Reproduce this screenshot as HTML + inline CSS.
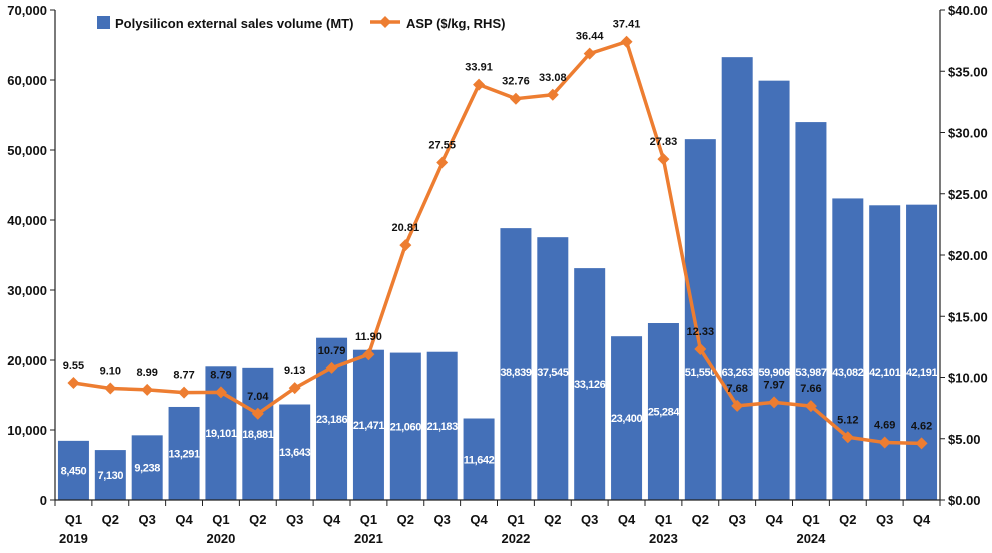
<!DOCTYPE html>
<html><head><meta charset="utf-8"><style>
body{margin:0;background:#fff;}
svg{font-family:"Liberation Sans",Arial,sans-serif;font-weight:bold;}
</style></head><body>
<svg id="chart" width="992" height="548"></svg>
<script>
const quarters=["Q1","Q2","Q3","Q4","Q1","Q2","Q3","Q4","Q1","Q2","Q3","Q4","Q1","Q2","Q3","Q4","Q1","Q2","Q3","Q4","Q1","Q2","Q3","Q4"];
const years=["2019","2020","2021","2022","2023","2024"];
const volume=[8450,7130,9238,13291,19101,18881,13643,23186,21471,21060,21183,11642,38839,37545,33126,23400,25284,51550,63263,59906,53987,43082,42101,42191];
const asp=[9.55,9.10,8.99,8.77,8.79,7.04,9.13,10.79,11.90,20.81,27.55,33.91,32.76,33.08,36.44,37.41,27.83,12.33,7.68,7.97,7.66,5.12,4.69,4.62];
const leftTicks=[0,10000,20000,30000,40000,50000,60000,70000];
const rightTicks=[0,5,10,15,20,25,30,35,40];

const NS="http://www.w3.org/2000/svg";
const svg=document.getElementById('chart');
const X0=55,X1=940,Y0=500,Y1=10;
const n=quarters.length, step=(X1-X0)/n;
const xc=i=>X0+step*(i+0.5);
const yL=v=>Y0-(v/70000)*(Y0-Y1);
const yR=v=>Y0-(v/40)*(Y0-Y1);
function mk(tag,attrs,parent){const e=document.createElementNS(NS,tag);for(const k in attrs)e.setAttribute(k,attrs[k]);(parent||svg).appendChild(e);return e;}
function txt(x,y,s,size,anchor,fill){const t=mk('text',{x:x,y:y,'font-size':size,'text-anchor':anchor,fill:fill||'#111'});t.textContent=s;return t;}

volume.forEach((v,i)=>{
  const r=mk('rect',{x:xc(i)-15.5,y:yL(v),width:31,height:Y0-yL(v),fill:'#4470b8'});
  
  
});
volume.forEach((v,i)=>{
  const mid=(yL(v)+Y0)/2;
  const t=txt(xc(i),Math.max(mid,372)+4,v.toLocaleString('en-US'),11,'middle','#fff');
  t.setAttribute('letter-spacing','-0.4');
  
  
});
mk('line',{x1:X0,y1:Y1,x2:X0,y2:Y0,stroke:'#222','stroke-width':1.2});
mk('line',{x1:X1,y1:Y1,x2:X1,y2:Y0,stroke:'#222','stroke-width':1.2});
mk('line',{x1:X0,y1:Y0,x2:X1,y2:Y0,stroke:'#222','stroke-width':1.2});
leftTicks.forEach(v=>{
  mk('line',{x1:X0-5,y1:yL(v),x2:X0,y2:yL(v),stroke:'#222'});
  const t=txt(X0-8,yL(v)+5,v.toLocaleString('en-US'),13,'end');
  
  
});
rightTicks.forEach(v=>{
  mk('line',{x1:X1,y1:yR(v),x2:X1+5,y2:yR(v),stroke:'#222'});
  const t=txt(X1+8,yR(v)+5,'$'+v.toFixed(2),13,'start');
  
  
});
for(let i=0;i<=n;i++){mk('line',{x1:X0+step*i,y1:Y0,x2:X0+step*i,y2:Y0+6,stroke:'#222'});}
quarters.forEach((q,i)=>{
  const t=txt(xc(i),524,q,13,'middle');
  
  
});
years.forEach((y,j)=>{
  const t=txt(xc(j*4),543,y,13,'middle');
  
  
});
const pts=asp.map((v,i)=>xc(i)+','+yR(v)).join(' ');
const pl=mk('polyline',{points:pts,fill:'none',stroke:'#ed7d31','stroke-width':3.5,'stroke-linejoin':'round'});


asp.forEach((v,i)=>{
  const x=xc(i),y=yR(v);
  const d=mk('polygon',{points:`${x},${y-6} ${x+6},${y} ${x},${y+6} ${x-6},${y}`,fill:'#ed7d31'});
  
  
  const t=txt(x,y-14,v.toFixed(2),11,'middle','#111');
  
  
});
const lg=mk('g',{});


mk('rect',{x:97,y:16,width:13,height:13,fill:'#4470b8'},lg);
const l1=txt(115,28,'Polysilicon external sales volume (MT)',13,'start');lg.appendChild(l1);
mk('line',{x1:370,y1:22,x2:400,y2:22,stroke:'#ed7d31','stroke-width':3.5},lg);
mk('polygon',{points:'385,16 391,22 385,28 379,22',fill:'#ed7d31'},lg);
const l2=txt(406,28,'ASP ($/kg, RHS)',13,'start');lg.appendChild(l2);
</script>
</body></html>
